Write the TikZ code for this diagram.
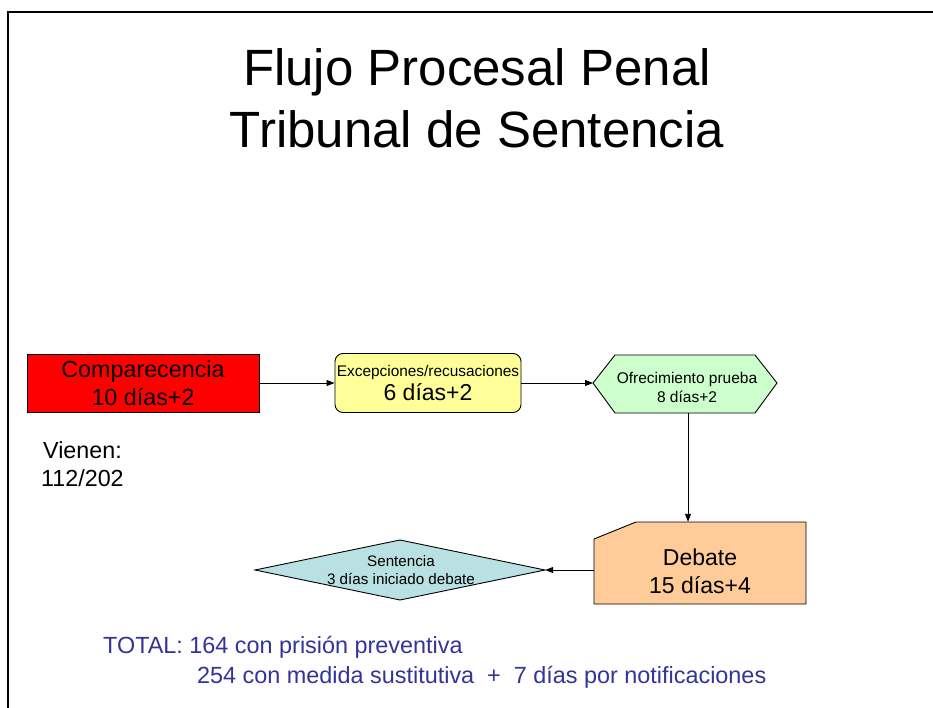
\documentclass[tikz,border=0pt]{standalone}
\usepackage{fontspec}
\setmainfont{Liberation Sans}
\usetikzlibrary{arrows.meta}
\definecolor{boxred}{HTML}{FF0000}
\definecolor{boxyellow}{HTML}{FFFF99}
\definecolor{boxgreen}{HTML}{CCFFCC}
\definecolor{boxorange}{HTML}{FFCC99}
\definecolor{boxcyan}{HTML}{B9E0E3}
\definecolor{totalblue}{HTML}{333399}
\tikzset{
  shapeline/.style={draw=black, line width=0.9pt},
  ghost/.style={shape=rectangle, inner sep=0pt, align=center},
  conn/.style={draw=black, line width=0.9pt, -{Triangle[length=8pt,width=6pt]}},
  titletxt/.style={font=\fontsize{51}{60}\selectfont, anchor=base},
}
\begin{document}
\begin{tikzpicture}[x=1pt,y=-1pt]
\useasboundingbox (0,0) rectangle (933,708);
\fill[white] (0,0) rectangle (933,708);
% frame
\draw[line width=2pt] (8,708) -- (8,12) -- (933,12);
% title
\node[titletxt] (title1) at (477,86) {Flujo Procesal Penal};
\node[titletxt] (title2) at (477,148) {Tribunal de Sentencia};
% Comparecencia
\node[shapeline, fill=boxred, minimum width=232pt, minimum height=58pt, inner sep=0pt, align=center, font=\fontsize{23.3}{28}\selectfont] (comp) at (143,383) {Comparecencia\\10 días+2};
% Excepciones
\node[shapeline, fill=boxyellow, rounded corners=8pt, minimum width=186pt, minimum height=59pt, inner sep=0pt, align=center] (exc) at (428,383)
  {{\fontsize{15.4}{17}\selectfont Excepciones/recusaciones}\\[3pt]{\fontsize{23}{26}\selectfont 6 días+2}};
% Ofrecimiento prueba (hexagon)
\filldraw[shapeline, fill=boxgreen] (593,383) -- (615,355) -- (755,355) -- (777,383) -- (755,413) -- (615,413) -- cycle;
\node[ghost, minimum width=184pt, minimum height=58pt] (ofr) at (688,384) {};
\node[ghost, font=\fontsize{15.5}{19}\selectfont] (ofrtext) at (687,387) {Ofrecimiento prueba\\8 días+2};
% Debate (cut corner)
\filldraw[shapeline, fill=boxorange] (594,539) -- (636,522) -- (806,522) -- (806,604) -- (594,604) -- cycle;
\node[ghost, minimum width=212pt, minimum height=82pt] (deb) at (700,563) {};
\node[ghost, font=\fontsize{23}{28}\selectfont] (debtext) at (700,571) {Debate\\15 días+4};
% Sentencia (diamond)
\filldraw[shapeline, fill=boxcyan] (255,570) -- (400,540) -- (545,570) -- (400,600) -- cycle;
\node[ghost, minimum width=290pt, minimum height=60pt] (sen) at (400,570) {};
\node[ghost, font=\fontsize{15.2}{17.5}\selectfont] (sentext) at (401,570) {Sentencia\\3 días iniciado debate};
% connectors
\draw[conn] (comp.east) -- (exc.west);
\draw[conn] (exc.east) -- (exc.east -| 593,0);
\draw[conn] (ofr.south) -- (ofr.south |- deb.north);
\draw[conn] (sen.east -| deb.west) -- (sen.east);
% Vienen
\node[anchor=base west, inner sep=0pt, font=\fontsize{23.3}{28}\selectfont] (vienen1) at (43,458) {Vienen:};
\node[anchor=base west, inner sep=0pt, font=\fontsize{23.3}{28}\selectfont] (vienen2) at (41,486) {112/202};
% totals
\node[anchor=base west, inner sep=0pt, font=\fontsize{23.4}{28}\selectfont, text=totalblue] (total1) at (103,653) {TOTAL: 164 con prisión preventiva};
\node[anchor=base west, inner sep=0pt, font=\fontsize{23.4}{28}\selectfont, text=totalblue] (total2) at (197,683) {254 con medida sustitutiva \ + \ 7 días por notificaciones};
\end{tikzpicture}
\end{document}
